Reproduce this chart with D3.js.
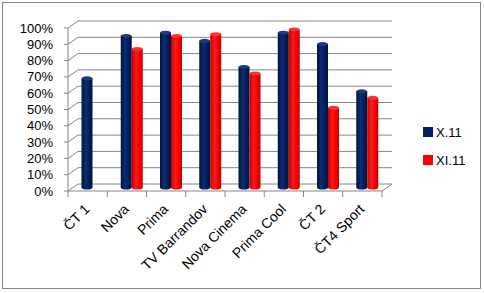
<!DOCTYPE html>
<html>
<head>
<meta charset="utf-8">
<script src="https://cdn.jsdelivr.net/npm/d3@7"></script>
<style>
  body { margin: 0; background: #fff; }
  svg { display: block; font-family: "Liberation Sans", Arial, sans-serif; }
</style>
</head>
<body>
<div class="content"></div>
<script>
var categories = ['ČT 1', 'Nova', 'Prima', 'TV Barrandov', 'Nova Cinema', 'Prima Cool', 'ČT 2', 'ČT4 Sport'];
var seriesNames = ['X.11', 'XI.11'];
var valuesX = [67, 93, 95, 90, 74, 95, 88, 59];
var valuesXI = [null, 85, 93, 94, 70, 97, 49, 55];
var yTicks = [0, 10, 20, 30, 40, 50, 60, 70, 80, 90, 100];

var colors = ['#002060', '#ff0000'];
var W = 484, H = 293;

var svg = d3.select('.content').append('svg')
    .attr('width', W)
    .attr('height', H);

// outer frame
svg.append('rect')
    .attr('x', 2.5).attr('y', 2.5)
    .attr('width', 478).attr('height', 286)
    .attr('fill', '#fff')
    .attr('stroke', '#868686');

var depth = { dx: 10, dy: -7 };

var x = d3.scaleBand()
    .domain(categories)
    .range([68, 382]);

var xs = d3.scaleBand()
    .domain(seriesNames)
    .range([8.5, 30.5]);

var y = d3.scaleLinear()
    .domain([0, 100])
    .range([191, 28]);

// gradients for cylinders
var defs = svg.append('defs');
function addGrad(id, edge, mid, hi) {
    var g = defs.append('linearGradient').attr('id', id)
        .attr('x1', 0).attr('x2', 1).attr('y1', 0).attr('y2', 0);
    g.append('stop').attr('offset', '0%').attr('stop-color', edge);
    g.append('stop').attr('offset', '40%').attr('stop-color', hi);
    g.append('stop').attr('offset', '65%').attr('stop-color', mid);
    g.append('stop').attr('offset', '100%').attr('stop-color', edge);
}
addGrad('g0', '#00133d', '#002060', '#0d2d72');
addGrad('g1', '#c40000', '#ff0000', '#ff1a1a');

var gridColor = '#868686';

// back wall gridlines + side wall diagonals
yTicks.forEach(function(t) {
    var yy = y(t);
    svg.append('line')
        .attr('x1', 68 + depth.dx).attr('y1', yy + depth.dy)
        .attr('x2', 392).attr('y2', yy + depth.dy)
        .attr('stroke', gridColor).attr('stroke-width', 1);
    svg.append('line')
        .attr('x1', 68).attr('y1', yy)
        .attr('x2', 68 + depth.dx).attr('y2', yy + depth.dy)
        .attr('stroke', gridColor).attr('stroke-width', 1);
    // tick
    svg.append('line')
        .attr('x1', 64).attr('y1', yy)
        .attr('x2', 68).attr('y2', yy)
        .attr('stroke', gridColor);
    svg.append('text')
        .attr('x', 53).attr('y', yy)
        .attr('dy', '0.35em')
        .attr('text-anchor', 'end')
        .attr('font-size', 13)
        .attr('fill', '#000')
        .text(t + '%');
});

// y axis
svg.append('line')
    .attr('x1', 68).attr('y1', y(100))
    .attr('x2', 68).attr('y2', y(0))
    .attr('stroke', gridColor);

// floor front + right edge
svg.append('line')
    .attr('x1', 68).attr('y1', y(0))
    .attr('x2', 382).attr('y2', y(0))
    .attr('stroke', gridColor);
svg.append('line')
    .attr('x1', 382).attr('y1', y(0))
    .attr('x2', 382 + depth.dx).attr('y2', y(0) + depth.dy)
    .attr('stroke', gridColor);

// category ticks
var bounds = categories.map(function(c) { return x(c); }).concat([382]);
bounds.forEach(function(b) {
    svg.append('line')
        .attr('x1', b).attr('y1', y(0))
        .attr('x2', b).attr('y2', y(0) + 6)
        .attr('stroke', gridColor);
});

// bars as cylinders
var bw = xs.bandwidth();
var ry = 2;
var shift = { dx: depth.dx / 2, dy: depth.dy / 2 };
var data = [];
categories.forEach(function(c, i) {
    [valuesX[i], valuesXI[i]].forEach(function(v, s) {
        if (v === null) return;
        data.push({ cat: c, s: s, v: v });
    });
});

var bars = svg.append('g').selectAll('g')
    .data(data)
    .enter().append('g');

bars.each(function(d) {
    var g = d3.select(this);
    var x0 = x(d.cat) + xs(seriesNames[d.s]) + shift.dx;
    var yTop = y(d.v) + shift.dy;
    var yBot = y(0) + shift.dy;
    var cx = x0 + bw / 2;
    g.append('path')
        .attr('d', 'M' + x0 + ',' + yTop +
            'L' + x0 + ',' + yBot +
            'A' + (bw / 2) + ',' + ry + ' 0 0 0 ' + (x0 + bw) + ',' + yBot +
            'L' + (x0 + bw) + ',' + yTop + 'Z')
        .attr('fill', 'url(#g' + d.s + ')');
    g.append('ellipse')
        .attr('cx', cx).attr('cy', yTop)
        .attr('rx', bw / 2).attr('ry', ry)
        .attr('fill', d.s === 0 ? '#1a3a80' : '#ff3030');
});

// category labels
categories.forEach(function(c) {
    var cx = x(c) + x.bandwidth() / 2 + 3;
    svg.append('text')
        .attr('transform', 'translate(' + cx + ',' + 210 + ') rotate(-45)')
        .attr('text-anchor', 'end')
        .attr('font-size', 14)
        .attr('fill', '#000')
        .text(c);
});

// legend
var legend = svg.append('g');
seriesNames.forEach(function(n, i) {
    var ly = 132 + i * 28;
    legend.append('rect')
        .attr('x', 423).attr('y', ly - 5)
        .attr('width', 10).attr('height', 10)
        .attr('fill', colors[i]);
    legend.append('text')
        .attr('x', 436).attr('y', ly)
        .attr('dy', '0.35em')
        .attr('font-size', 13)
        .attr('fill', '#000')
        .text(n);
});
</script>
</body>
</html>
